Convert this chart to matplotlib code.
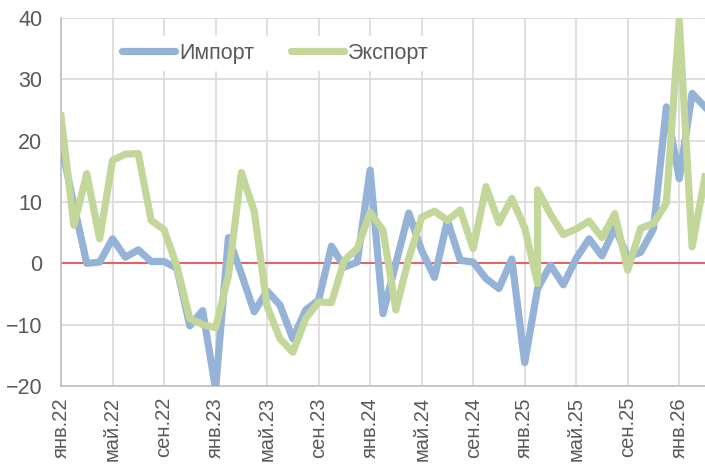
import numpy as np
import matplotlib
matplotlib.use("Agg")
import matplotlib.pyplot as plt

plt.rcParams['font.family'] = ['Liberation Sans', 'DejaVu Sans']

month_names = ['янв', 'фев', 'мар', 'апр', 'май', 'июн',
               'июл', 'авг', 'сен', 'окт', 'ноя', 'дек']
months = [m + '.' + str(y) for y in range(22, 27) for m in month_names][:51]

import_vals = [19.5, 9.5, 0.0, 0.2, 4.0, 1.0, 2.2, 0.3, 0.3, -0.8,
               -10.2, -7.7, -20.5, 4.2, -1.7, -7.9, -4.5, -6.8, -12.3, -7.6,
               -6.0, 2.8, -0.6, 0.2, 15.2, -8.2, 0.0, 8.2, 2.1, -2.3,
               7.0, 0.5, 0.2, -2.5, -4.1, 0.7, -16.2, -4.1, -0.3, -3.5,
               0.8, 4.0, 1.2, 5.8, 1.0, 1.8, 5.6, 25.5, 13.8, 27.7,
               25.5]

# two export points fall into фев.25, hence the vertical jump
export_months = months[:38] + months[37:]
export_vals = [24.0, 6.2, 14.6, 4.0, 16.8, 17.8, 17.9, 7.0, 5.5, -0.5,
               -9.0, -10.0, -10.5, -2.0, 14.8, 8.5, -7.0, -12.3, -14.5, -9.0,
               -6.3, -6.4, 0.5, 2.4, 8.3, 5.4, -7.6, 0.8, 7.5, 8.5,
               7.0, 8.7, 2.4, 12.5, 6.6, 10.6, 5.8, -3.3, 12.0, 8.0,
               4.7, 5.6, 6.9, 4.2, 8.1, -1.1, 5.7, 6.5, 9.8, 39.6,
               2.7, 14.1]

tick_labels = months[::4]

x_imp = [months.index(m) for m in months]
x_exp = [months.index(m) for m in export_months]

fig = plt.figure(figsize=(7.05, 4.67), dpi=100)
ax = fig.add_axes([61 / 705, 1 - 386 / 467, 1 - 61 / 705, (386 - 18) / 467])

grid_c = '#d9d9d9'
ax.set_xlim(0, len(months) - 1)
ax.set_ylim(-20, 40)
ax.set_yticks(range(-20, 41, 10))
ax.set_xticks([months.index(t) for t in tick_labels])
ax.set_xticklabels(tick_labels, rotation=90)
ax.grid(True, color=grid_c, lw=1.2)
ax.set_axisbelow(True)
ax.tick_params(length=0, labelsize=15.5, colors='#595959')
ax.tick_params(axis='y', pad=13.5)
ax.tick_params(axis='x', labelsize=14.5, pad=8)
for s in ['top', 'right']:
    ax.spines[s].set_visible(False)
for s in ['left', 'bottom']:
    ax.spines[s].set_color('#bfbfbf')
    ax.spines[s].set_linewidth(1.2)

ax.axhline(0, color='#e06666', lw=1.5, zorder=1)
ax.plot(x_imp, import_vals, color='#95b3d7', lw=5.2, label='Импорт',
        solid_joinstyle='round', zorder=3)
ax.plot(x_exp, export_vals, color='#c4d79b', lw=5.2, label='Экспорт',
        solid_joinstyle='round', zorder=4)

leg = fig.legend(loc='center left', bbox_to_anchor=(116 / 705, 1 - 53 / 467),
                 ncol=2, fontsize=15.5, frameon=True, fancybox=False,
                 framealpha=1, edgecolor='white', handlelength=2.45,
                 handletextpad=0.2, columnspacing=1.7, borderpad=0.3,
                 borderaxespad=0)
for t in leg.get_texts():
    t.set_color('#595959')
for h in leg.get_lines():
    h.set_solid_capstyle('round')

fig.savefig('out.png', dpi=100)
